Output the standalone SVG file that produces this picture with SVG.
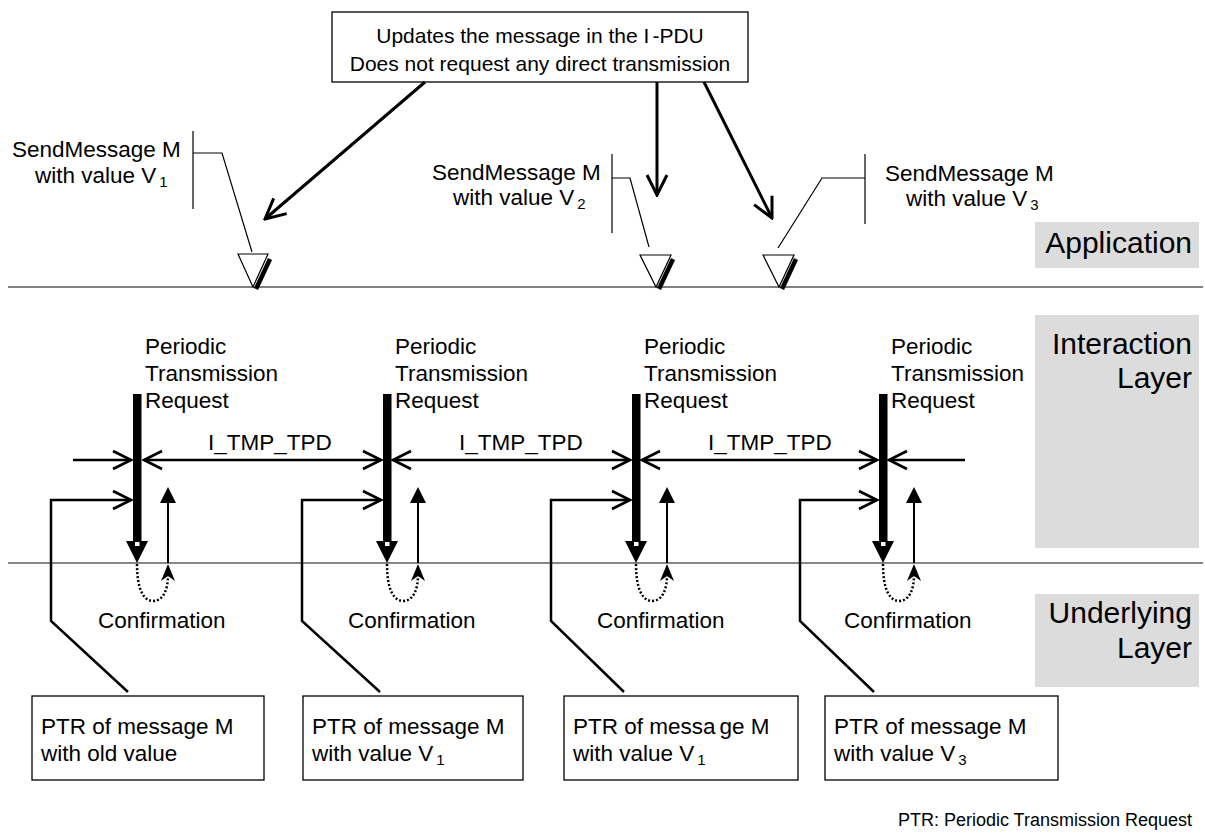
<svg xmlns="http://www.w3.org/2000/svg" width="1205" height="836" viewBox="0 0 1205 836">
<style>
text{font-family:"Liberation Sans",Arial,sans-serif;fill:#000}
.t{font-size:22.5px}
.n{font-size:21px}
.big{font-size:30px}
.sub{font-size:15px}
.box{fill:#fff;stroke:#000;stroke-width:1.3}
.layer{fill:#dcdcdc;stroke:none}
.thin{fill:none;stroke:#000;stroke-width:1.2}
.conn{fill:none;stroke:#000;stroke-width:2.5}
.big-arrow{fill:none;stroke:#000;stroke-width:3}
.dot{fill:none;stroke:#000;stroke-width:2.5;stroke-dasharray:2 2}
.tri{fill:#fff;stroke:#000;stroke-width:1.2}
.shadow{stroke:#000;stroke-width:4.5}
</style>
<defs>
<marker id="chev" viewBox="0 0 22 22" refX="20" refY="11" markerWidth="22" markerHeight="22" markerUnits="userSpaceOnUse" orient="auto-start-reverse">
<path d="M2,2 L20,11 L2,20" fill="none" stroke="#000" stroke-width="2.8"/>
</marker>
<marker id="chevB" viewBox="0 0 24 24" refX="22" refY="12" markerWidth="24" markerHeight="24" markerUnits="userSpaceOnUse" orient="auto">
<path d="M2,2 L22,12 L2,22" fill="none" stroke="#000" stroke-width="3"/>
</marker>
</defs>

<!-- layer labels -->
<g id="layer-application">
<rect class="layer" x="1035" y="222" width="164" height="46"/>
<text class="big" x="1192" y="253" text-anchor="end">Application</text>
</g>
<g id="layer-interaction">
<rect class="layer" x="1035" y="315" width="164" height="233"/>
<text class="big" x="1192" y="354" text-anchor="end">Interaction</text>
<text class="big" x="1192" y="388" text-anchor="end">Layer</text>
</g>
<g id="layer-underlying">
<rect class="layer" x="1035" y="594" width="164" height="93"/>
<text class="big" x="1192" y="623" text-anchor="end">Underlying</text>
<text class="big" x="1192" y="658" text-anchor="end">Layer</text>
</g>

<!-- layer boundary lines -->
<g id="boundaries">
<line x1="8" y1="287" x2="1203" y2="287" stroke="#555" stroke-width="1.6"/>
<line x1="8" y1="563" x2="1203" y2="563" stroke="#111" stroke-width="1.2"/>
</g>

<!-- top note -->
<g id="note">
<rect class="box" x="332" y="12" width="416" height="70"/>
<text class="n" x="540" y="43" text-anchor="middle">Updates the message in the I<tspan dx="3">-PDU</tspan></text>
<text class="n" x="540" y="71" text-anchor="middle">Does not request any direct transmission</text>
</g>

<!-- SendMessage events -->
<g id="send1">
<text class="t" x="12" y="157">SendMessage M</text>
<text class="t" x="35" y="183">with value V<tspan class="sub" dx="3" dy="4">1</tspan></text>
<line class="thin" x1="193" y1="131" x2="193" y2="209"/>
<polyline class="thin" points="193,153 222,153 252,252"/>
<polygon class="tri" points="238,254 268,254 253,287"/>
<line class="shadow" x1="270" y1="259" x2="256" y2="289"/>
</g>
<g id="send2">
<text class="t" x="432" y="180">SendMessage M</text>
<text class="t" x="453" y="205">with value V<tspan class="sub" dx="3" dy="4">2</tspan></text>
<line class="thin" x1="612" y1="154" x2="612" y2="233"/>
<polyline class="thin" points="612,178 630,178 649,247"/>
<polygon class="tri" points="640,255 671,255 656,287"/>
<line class="shadow" x1="673" y1="259" x2="659" y2="289"/>
</g>
<g id="send3">
<text class="t" x="885" y="181">SendMessage M</text>
<text class="t" x="906" y="206">with value V<tspan class="sub" dx="3" dy="4">3</tspan></text>
<line class="thin" x1="865" y1="154" x2="865" y2="224"/>
<polyline class="thin" points="865,178 822,178 778,248"/>
<polygon class="tri" points="763,255 794,255 779,287"/>
<line class="shadow" x1="796" y1="259" x2="782" y2="289"/>
</g>

<!-- periodic transmission requests -->
<g id="ptr1">
<text class="t" x="145" y="354">Periodic</text>
<text class="t" x="145" y="381">Transmission</text>
<text class="t" x="145" y="408">Request</text>
<rect x="133" y="394" width="8.5" height="148" fill="#000"/>
<polygon points="126,541 148,541 137,563" fill="#000"/>
<rect x="135" y="542" width="4.5" height="4" fill="#fff"/>
<line x1="168" y1="563" x2="168" y2="500" stroke="#000" stroke-width="2"/>
<polygon points="168,487 176,503 160,503" fill="#000"/>
<path class="dot" d="M137,564 C137,590 144,601 153,601 C163,601 168,590 168,575"/>
<polygon points="168,564 175,581 168,576 161,581" fill="#000"/>
<text class="t" x="98" y="628">Confirmation</text>
</g>
<g id="ptr2">
<text class="t" x="395" y="354">Periodic</text>
<text class="t" x="395" y="381">Transmission</text>
<text class="t" x="395" y="408">Request</text>
<rect x="383" y="394" width="8.5" height="148" fill="#000"/>
<polygon points="376,541 398,541 387,563" fill="#000"/>
<rect x="385" y="542" width="4.5" height="4" fill="#fff"/>
<line x1="418" y1="563" x2="418" y2="500" stroke="#000" stroke-width="2"/>
<polygon points="418,487 426,503 410,503" fill="#000"/>
<path class="dot" d="M387,564 C387,590 394,601 403,601 C413,601 418,590 418,575"/>
<polygon points="418,564 425,581 418,576 411,581" fill="#000"/>
<text class="t" x="348" y="628">Confirmation</text>
</g>
<g id="ptr3">
<text class="t" x="644" y="354">Periodic</text>
<text class="t" x="644" y="381">Transmission</text>
<text class="t" x="644" y="408">Request</text>
<rect x="632" y="394" width="8.5" height="148" fill="#000"/>
<polygon points="625,541 647,541 636,563" fill="#000"/>
<rect x="634" y="542" width="4.5" height="4" fill="#fff"/>
<line x1="667" y1="563" x2="667" y2="500" stroke="#000" stroke-width="2"/>
<polygon points="667,487 675,503 659,503" fill="#000"/>
<path class="dot" d="M636,564 C636,590 643,601 652,601 C662,601 667,590 667,575"/>
<polygon points="667,564 674,581 667,576 660,581" fill="#000"/>
<text class="t" x="597" y="628">Confirmation</text>
</g>
<g id="ptr4">
<text class="t" x="891" y="354">Periodic</text>
<text class="t" x="891" y="381">Transmission</text>
<text class="t" x="891" y="408">Request</text>
<rect x="879" y="394" width="8.5" height="148" fill="#000"/>
<polygon points="872,541 894,541 883,563" fill="#000"/>
<rect x="881" y="542" width="4.5" height="4" fill="#fff"/>
<line x1="914" y1="563" x2="914" y2="500" stroke="#000" stroke-width="2"/>
<polygon points="914,487 922,503 906,503" fill="#000"/>
<path class="dot" d="M883,564 C883,590 890,601 899,601 C909,601 914,590 914,575"/>
<polygon points="914,564 921,581 914,576 907,581" fill="#000"/>
<text class="t" x="844" y="628">Confirmation</text>
</g>

<!-- PTR boxes -->
<g id="box1">
<rect class="box" x="32" y="696" width="232" height="84"/>
<text class="t" x="41" y="734">PTR of message M</text>
<text class="t" x="41" y="761">with old value</text>
</g>
<g id="box2">
<rect class="box" x="303" y="696" width="220" height="84"/>
<text class="t" x="312" y="734">PTR of message M</text>
<text class="t" x="312" y="761">with value V<tspan class="sub" dx="3" dy="4">1</tspan></text>
</g>
<g id="box3">
<rect class="box" x="564" y="696" width="234" height="84"/>
<text class="t" x="573" y="734">PTR of messa<tspan dx="4">ge M</tspan></text>
<text class="t" x="573" y="761">with value V<tspan class="sub" dx="3" dy="4">1</tspan></text>
</g>
<g id="box4">
<rect class="box" x="825" y="696" width="233" height="84"/>
<text class="t" x="834" y="734">PTR of message M</text>
<text class="t" x="834" y="761">with value V<tspan class="sub" dx="3" dy="4">3</tspan></text>
</g>

<!-- period labels -->
<g id="period-labels">
<text class="t" x="208" y="450">I_TMP_TPD</text>
<text class="t" x="459" y="450">I_TMP_TPD</text>
<text class="t" x="708" y="450">I_TMP_TPD</text>
</g>

<g id="legend">
<text x="1192" y="826" text-anchor="end" style="font-size:18px">PTR: Periodic Transmission Request</text>
</g>

<!-- connectors -->
<g id="connectors">
<line class="big-arrow" x1="425" y1="82" x2="265" y2="219" marker-end="url(#chevB)"/>
<line class="big-arrow" x1="657" y1="82" x2="657" y2="195" marker-end="url(#chevB)"/>
<line class="big-arrow" x1="704" y1="82" x2="772" y2="218" marker-end="url(#chevB)"/>

<line class="conn" x1="73" y1="460" x2="131" y2="460" marker-end="url(#chev)"/>
<line class="conn" x1="144" y1="460" x2="381" y2="460" marker-start="url(#chev)" marker-end="url(#chev)"/>
<line class="conn" x1="393" y1="460" x2="630" y2="460" marker-start="url(#chev)" marker-end="url(#chev)"/>
<line class="conn" x1="642" y1="460" x2="877" y2="460" marker-start="url(#chev)" marker-end="url(#chev)"/>
<line class="conn" x1="965" y1="460" x2="889" y2="460" marker-end="url(#chev)"/>

<polyline class="conn" points="128,692 51,621 51,500 131,500" marker-end="url(#chev)"/>
<polyline class="conn" points="380,692 302,621 302,500 381,500" marker-end="url(#chev)"/>
<polyline class="conn" points="624,692 551,621 551,500 630,500" marker-end="url(#chev)"/>
<polyline class="conn" points="874,692 800,621 800,500 877,500" marker-end="url(#chev)"/>
</g>
</svg>
